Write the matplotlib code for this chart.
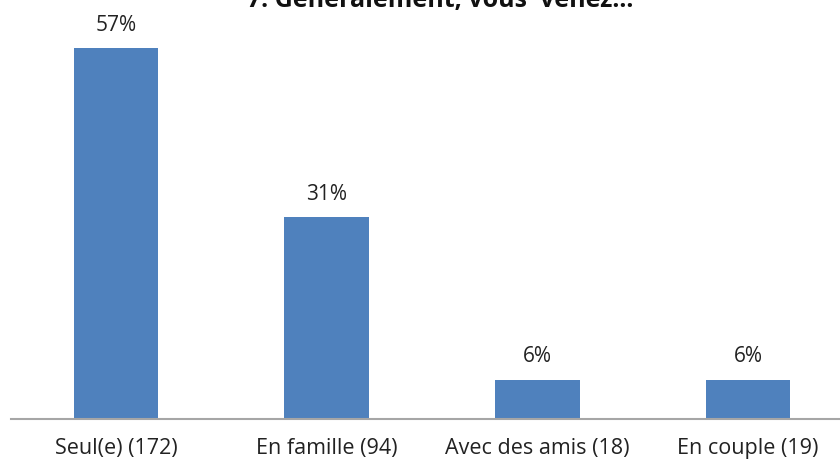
import matplotlib.pyplot as plt
from matplotlib import font_manager

categories = ['Seul(e) (172)', 'En famille (94)', 'Avec des amis (18)', 'En couple (19)']
values = [57, 31, 6, 6]
labels = ['57%', '31%', '6%', '6%']
title = '7. Généralement, vous  venez...'

names = {f.name for f in font_manager.fontManager.ttflist}
fam = 'Liberation Sans Narrow' if 'Liberation Sans Narrow' in names else 'Open Sans'
plt.rcParams['font.family'] = [fam, 'DejaVu Sans']

W, H = 840, 466
fig = plt.figure(figsize=(W / 100, H / 100), dpi=100)
ax = fig.add_axes([10.5 / W, (H - 419) / H, 843 / W, 390 / H])

x = range(len(categories))
bars = ax.bar(x, values, width=0.4, color='#4f81bd')
ax.set_xlim(-0.5, 3.5)
ax.set_ylim(0, 60)

for b, t in zip(bars, labels):
    ax.annotate(t, (b.get_x() + b.get_width() / 2, b.get_height()),
                xytext=(0, 9), textcoords='offset points', ha='center', va='bottom',
                fontsize=15, color='#222222')

ax.set_xticks(list(x))
ax.set_xticklabels(categories, fontsize=15.5, color='#222222')
ax.tick_params(axis='x', length=0, pad=14)
ax.set_yticks([])
for s in ['top', 'right', 'left']:
    ax.spines[s].set_visible(False)
ax.spines['bottom'].set_color('#a6a6a6')
ax.spines['bottom'].set_linewidth(1.5)

fig.text(440 / W, 1 - 7 / H, title, ha='center', va='baseline',
         fontsize=18, fontweight='bold', color='#111111')

fig.savefig('out.png', dpi=100)
